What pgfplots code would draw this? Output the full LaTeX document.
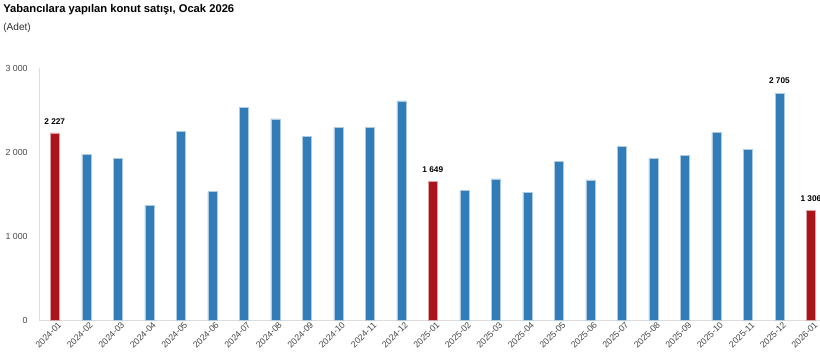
\documentclass[border=0pt]{standalone}
\usepackage{fontspec}
\setmainfont{Liberation Sans}
\usepackage{pgfplots}
\pgfplotsset{compat=1.18}
\definecolor{barblue}{RGB}{50,124,184}
\definecolor{barred}{RGB}{172,20,28}
\definecolor{axgray}{RGB}{220,220,220}
\definecolor{txtgray}{RGB}{70,70,70}
\begin{document}
\begin{tikzpicture}
\useasboundingbox (-29.25pt,-30.75pt) rectangle (585.75pt,240pt);
\node[anchor=base west, font=\bfseries\fontsize{8.4}{10}\selectfont, inner sep=0pt] at (-27pt,230.5pt) {Yabancılara yapılan konut satışı, Ocak 2026};
\node[anchor=base west, font=\fontsize{7.6}{9}\selectfont, text=txtgray!70!black, inner sep=0pt] at (-27pt,217pt) {(Adet)};
\begin{axis}[
  at={(0,0)}, anchor=south west,
  scale only axis,
  width=585.75pt, height=189pt,
  xmin=-0.5, xmax=24.29,
  ymin=0, ymax=3000,
  axis x line*=bottom, axis y line*=left,
  axis line style={axgray, line width=0.6pt, -},
  ytick={0,1000,2000,3000},
  xtick={0,...,24},
  major tick length=0pt,
  xticklabels={2024-01,2024-02,2024-03,2024-04,2024-05,2024-06,2024-07,2024-08,2024-09,2024-10,2024-11,2024-12,2025-01,2025-02,2025-03,2025-04,2025-05,2025-06,2025-07,2025-08,2025-09,2025-10,2025-11,2025-12,2026-01},
  xticklabel style={rotate=45, anchor=north east, font=\fontsize{6.6}{8}\selectfont, text=txtgray, inner sep=1pt, xshift=2pt, yshift=-1pt},
  yticklabel style={font=\fontsize{6.6}{8}\selectfont, text=txtgray, xshift=-5pt},
  /pgf/number format/assume math mode=true,
  /pgf/number format/1000 sep={\ },
  ybar, bar width=6.75pt,
  nodes near coords style={font=\bfseries\fontsize{6.2}{7}\selectfont, anchor=south, inner sep=0pt, yshift=6.5pt, /pgf/number format/1000 sep={\ }},
  clip=false,
]
\addplot[fill=barblue, draw=barblue!40!white, line width=0.3pt, bar shift=0pt] coordinates {
(1,1975) (2,1924) (3,1366) (4,2246) (5,1529) (6,2529) (7,2393) (8,2190) (9,2290) (10,2290) (11,2608)
(13,1541) (14,1681) (15,1521) (16,1891) (17,1669) (18,2071) (19,1927) (20,1959) (21,2230) (22,2035)
};
\addplot[fill=barblue, draw=barblue!40!white, line width=0.3pt, bar shift=0pt, nodes near coords] coordinates {(23,2705)};
\addplot[fill=barred, draw=barred!40!white, line width=0.3pt, bar shift=0pt, nodes near coords] coordinates {(0,2227) (12,1649) (24,1306)};
\end{axis}
\end{tikzpicture}
\end{document}
